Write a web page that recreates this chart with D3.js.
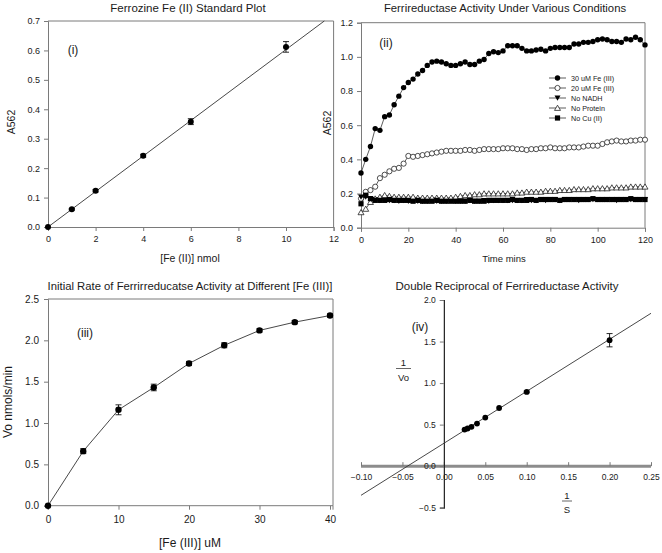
<!DOCTYPE html>
<html><head><meta charset="utf-8">
<script src="https://cdn.jsdelivr.net/npm/d3@7"></script>
<style>body{margin:0;background:#fff}svg{display:block;font-family:"Liberation Sans",Arial,sans-serif}</style>
</head><body><svg id="c" width="662" height="553"></svg>
<script>
// ---------- DATA ----------
// (i) Ferrozine standard
const stdX = [0, 1, 2, 4, 6, 10];
const stdY = [0, 0.06, 0.123, 0.242, 0.358, 0.612];
const stdErr = [0, 0.003, 0.004, 0.005, 0.01, 0.018];
const stdFit = [0, 0.0603]; // intercept, slope
const stdXTicks = [0, 2, 4, 6, 8, 10, 12];
const stdYTicks = [0, 0.1, 0.2, 0.3, 0.4, 0.5, 0.6, 0.7];

// (ii) time course
const timeMins = d3.range(0, 121, 2);
const fe30 = [0.32,0.40,0.475,0.58,0.57,0.65,0.66,0.72,0.77,0.82,
  0.85,0.87,0.90,0.92,0.95,0.97,0.975,0.97,0.96,0.95,
  0.95,0.96,0.97,0.955,0.955,0.975,0.985,1.02,1.03,1.025,
  1.035,1.065,1.065,1.065,1.05,1.035,1.035,1.04,1.045,1.035,
  1.05,1.055,1.055,1.055,1.055,1.075,1.075,1.085,1.085,1.09,
  1.10,1.105,1.10,1.09,1.09,1.085,1.105,1.10,1.115,1.10,
  1.07];
const fe20 = [0.17,0.21,0.22,0.24,0.29,0.31,0.33,0.345,0.35,0.375,
  0.42,0.415,0.42,0.425,0.43,0.435,0.44,0.445,0.45,0.45,
  0.45,0.45,0.455,0.455,0.45,0.455,0.46,0.46,0.46,0.46,
  0.465,0.465,0.465,0.46,0.46,0.455,0.46,0.46,0.465,0.465,
  0.47,0.465,0.465,0.465,0.47,0.47,0.47,0.475,0.48,0.48,
  0.48,0.49,0.50,0.505,0.51,0.505,0.505,0.51,0.51,0.515,
  0.515];
const noNADH = [0.18,0.18,0.17,0.165,0.16,0.165,0.16,0.16,0.155,0.16,
  0.155,0.16,0.155,0.155,0.155,0.16,0.155,0.155,0.155,0.16,
  0.155,0.155,0.155,0.16,0.155,0.155,0.16,0.155,0.16,0.16,
  0.16,0.16,0.16,0.16,0.16,0.165,0.16,0.16,0.165,0.16,
  0.165,0.165,0.16,0.165,0.165,0.165,0.16,0.165,0.165,0.165,
  0.165,0.165,0.165,0.165,0.16,0.165,0.165,0.165,0.165,0.165,
  0.165];
const noProtein = [0.09,0.11,0.15,0.17,0.18,0.19,0.185,0.18,0.18,0.18,
  0.18,0.18,0.175,0.175,0.175,0.175,0.175,0.175,0.175,0.175,
  0.18,0.185,0.19,0.19,0.195,0.195,0.20,0.20,0.20,0.20,
  0.20,0.20,0.20,0.205,0.205,0.21,0.21,0.21,0.21,0.215,
  0.215,0.215,0.22,0.22,0.22,0.225,0.225,0.225,0.225,0.23,
  0.23,0.23,0.23,0.235,0.235,0.235,0.235,0.24,0.24,0.24,
  0.24];
const noCu = [0.14,0.19,0.17,0.16,0.16,0.16,0.165,0.16,0.16,0.16,
  0.16,0.155,0.16,0.155,0.155,0.155,0.16,0.155,0.155,0.155,
  0.155,0.155,0.155,0.16,0.155,0.155,0.155,0.16,0.16,0.16,
  0.16,0.16,0.165,0.16,0.16,0.16,0.165,0.16,0.165,0.165,
  0.165,0.165,0.16,0.165,0.165,0.165,0.165,0.165,0.165,0.17,
  0.165,0.165,0.165,0.165,0.165,0.165,0.165,0.17,0.165,0.165,
  0.165];
const seriesNames = ["30 uM Fe (III)", "20 uM Fe (III)", "No NADH", "No Protein", "No Cu (II)"];
const timeXTicks = [0, 20, 40, 60, 80, 100, 120];
const timeYTicks = [0, 0.2, 0.4, 0.6, 0.8, 1.0, 1.2];

// (iii) initial rate
const feConc = [0, 5, 10, 15, 20, 25, 30, 35, 40];
const vo = [0, 0.66, 1.16, 1.43, 1.72, 1.94, 2.12, 2.22, 2.30];
const voErr = [0, 0.03, 0.06, 0.04, 0.025, 0.03, 0.02, 0.02, 0.02];
const rateXTicks = [0, 10, 20, 30, 40];
const rateYTicks = [0, 0.5, 1.0, 1.5, 2.0, 2.5];

// (iv) double reciprocal
const invS = [0.025, 0.0286, 0.0333, 0.04, 0.05, 0.0667, 0.1, 0.2];
const invVo = [0.44, 0.453, 0.473, 0.513, 0.585, 0.70, 0.894, 1.516];
const invErr = [0, 0, 0, 0, 0, 0, 0.01, 0.08];
const lbFit = [0.275, 6.26]; // intercept, slope
const lbXTicks = [-0.10, -0.05, 0.00, 0.05, 0.10, 0.15, 0.20, 0.25];
const lbYTicks = [-0.5, 0.0, 0.5, 1.0, 1.5, 2.0];

// ---------- DRAW ----------
const svg = d3.select("#c");
const AX = "#7a7a7a";
const TXT = "#1a1a1a";

function text(x, y, s, size, anchor, rot) {
  const t = svg.append("text").attr("x", x).attr("y", y).text(s)
    .attr("font-size", size).attr("fill", TXT).attr("text-anchor", anchor || "middle");
  if (rot) t.attr("transform", `rotate(${rot},${x},${y})`);
  return t;
}
function styleAxis(g, fs) {
  g.selectAll(".domain").attr("stroke", AX);
  g.selectAll(".tick line").attr("stroke", AX);
  g.selectAll(".tick text").attr("fill", TXT).attr("font-size", fs).attr("font-family", "Liberation Sans, Arial, sans-serif");
}
function frame(x, y) {
  svg.append("path").attr("fill", "none").attr("stroke", AX)
    .attr("d", `M${x.range()[0]},${y.range()[1]}H${x.range()[1]}V${y.range()[0]}`);
}
function errBars(g, xs, ys, es, x, y) {
  xs.forEach((d, i) => {
    if (!es[i]) return;
    const cx = x(d), y1 = y(ys[i] - es[i]), y2 = y(ys[i] + es[i]);
    g.append("path").attr("stroke", "#111").attr("fill", "none").attr("stroke-width", 0.9)
      .attr("d", `M${cx},${y1}V${y2}M${cx-3},${y1}H${cx+3}M${cx-3},${y2}H${cx+3}`);
  });
}
function fmt1(d) { return d3.format(".1f")(d); }

// ===== Panel (i) =====
{
  const x = d3.scaleLinear().domain([0, 12]).range([48, 333.6]);
  const y = d3.scaleLinear().domain([0, 0.7]).range([227, 21]);
  frame(x, y);
  const gx = svg.append("g").attr("transform", `translate(0,${y(0)})`)
    .call(d3.axisBottom(x).tickValues(stdXTicks).tickSize(4).tickPadding(5).tickFormat(d3.format("d")));
  styleAxis(gx, 9);
  const gy = svg.append("g").attr("transform", `translate(${x(0)},0)`)
    .call(d3.axisLeft(y).tickValues(stdYTicks).tickSize(4).tickPadding(4).tickFormat(fmt1));
  styleAxis(gy, 9);
  const xEnd = (0.7 - stdFit[0]) / stdFit[1];
  svg.append("line").attr("x1", x(0)).attr("y1", y(stdFit[0]))
    .attr("x2", x(xEnd)).attr("y2", y(stdFit[0] + stdFit[1] * xEnd))
    .attr("stroke", "#333").attr("stroke-width", 0.9);
  const g = svg.append("g");
  errBars(g, stdX, stdY, stdErr, x, y);
  g.selectAll("circle").data(stdX).join("circle")
    .attr("cx", d => x(d)).attr("cy", (d, i) => y(stdY[i])).attr("r", 3).attr("fill", "#000");
  text(188, 12, "Ferrozine Fe (II) Standard Plot", 11.5);
  text(190, 262, "[Fe (II)] nmol", 10.5);
  text(15, 122, "A562", 10.5, "middle", -90);
  text(73, 54, "(i)", 12);
}

// ===== Panel (ii) =====
{
  const x = d3.scaleLinear().domain([0, 120]).range([361, 645]);
  const y = d3.scaleLinear().domain([0, 1.2]).range([227.7, 22.7]);
  frame(x, y);
  const gx = svg.append("g").attr("transform", `translate(0,${y(0)})`)
    .call(d3.axisBottom(x).tickValues(timeXTicks).tickSize(4).tickPadding(5).tickFormat(d3.format("d")));
  styleAxis(gx, 9);
  const gy = svg.append("g").attr("transform", `translate(${x(0)},0)`)
    .call(d3.axisLeft(y).tickValues(timeYTicks).tickSize(4).tickPadding(4).tickFormat(fmt1));
  styleAxis(gy, 9);

  const allSeries = [fe30, fe20, noNADH, noProtein, noCu];
  const line = d3.line().x((d, i) => x(timeMins[i])).y(d => y(d));
  function marker(g, k, cx, cy) {
    if (k === 0) g.append("circle").attr("cx", cx).attr("cy", cy).attr("r", 2.7).attr("fill", "#000");
    else if (k === 1) g.append("circle").attr("cx", cx).attr("cy", cy).attr("r", 2.6).attr("fill", "#fff").attr("stroke", "#222").attr("stroke-width", 0.8);
    else if (k === 2) g.append("path").attr("d", `M${cx-3},${cy-2.4}H${cx+3}L${cx},${cy+2.8}Z`).attr("fill", "#000");
    else if (k === 3) g.append("path").attr("d", `M${cx-3},${cy+2.4}H${cx+3}L${cx},${cy-2.8}Z`).attr("fill", "#fff").attr("stroke", "#222").attr("stroke-width", 0.8);
    else g.append("rect").attr("x", cx - 2.6).attr("y", cy - 2.6).attr("width", 5.2).attr("height", 5.2).attr("fill", "#000");
  }
  allSeries.forEach((s, k) => {
    const g = svg.append("g");
    g.append("path").datum(s).attr("d", line).attr("fill", "none").attr("stroke", "#333").attr("stroke-width", 0.8);
    s.forEach((v, i) => marker(g, k, x(timeMins[i]), y(v)));
  });
  // legend
  const lg = svg.append("g");
  const rowY = [78, 88, 98, 108, 118];
  seriesNames.forEach((n, k) => {
    lg.append("line").attr("x1", 549).attr("x2", 566).attr("y1", rowY[k]).attr("y2", rowY[k]).attr("stroke", "#333").attr("stroke-width", 0.8);
    marker(lg, k, 557.5, rowY[k]);
    lg.append("text").attr("x", 571).attr("y", rowY[k] + 2.6).text(n).attr("font-size", 7.2).attr("fill", TXT);
  });
  text(505, 12, "Ferrireductase Activity Under Various Conditions", 11.3);
  text(504, 262, "Time mins", 9.5);
  text(331, 123, "A562", 10.5, "middle", -90);
  text(386, 47, "(ii)", 12);
}

// ===== Panel (iii) =====
{
  const x = d3.scaleLinear().domain([0, 40]).range([48, 330]);
  const y = d3.scaleLinear().domain([0, 2.5]).range([505.7, 299]);
  svg.append("path").attr("fill", "none").attr("stroke", AX)
    .attr("d", `M${x(0)},${y(2.5)}H333V${y(0)}`);
  const gx = svg.append("g").attr("transform", `translate(0,${y(0)})`)
    .call(d3.axisBottom(x).tickValues(rateXTicks).tickSize(4).tickPadding(6).tickFormat(d3.format("d")));
  styleAxis(gx, 10);
  gx.select(".domain").attr("d", `M${x(0)},4V0H333V4`);
  const gy = svg.append("g").attr("transform", `translate(${x(0)},0)`)
    .call(d3.axisLeft(y).tickValues(rateYTicks).tickSize(4).tickPadding(5).tickFormat(fmt1));
  styleAxis(gy, 10);
  const g = svg.append("g");
  g.append("path").datum(vo).attr("fill", "none").attr("stroke", "#333").attr("stroke-width", 0.9)
    .attr("d", d3.line().x((d, i) => x(feConc[i])).y(d => y(d)));
  errBars(g, feConc, vo, voErr, x, y);
  g.selectAll("circle").data(feConc).join("circle")
    .attr("cx", d => x(d)).attr("cy", (d, i) => y(vo[i])).attr("r", 3.2).attr("fill", "#000");
  text(190, 290, "Initial Rate of Ferrirreducatse Activity at Different [Fe (III)]", 11.3);
  text(190, 547, "[Fe (III)] uM", 12);
  text(12, 402, "Vo nmols/min", 12, "middle", -90);
  text(85, 337, "(iii)", 12);
}

// ===== Panel (iv) =====
{
  const x = d3.scaleLinear().domain([-0.10, 0.25]).range([361, 651]);
  const y = d3.scaleLinear().domain([-0.5, 2.0]).range([507.7, 300]);
  const gx = svg.append("g").attr("transform", `translate(0,${y(0)})`)
    .call(d3.axisTop(x).tickValues(lbXTicks).tickSize(4).tickFormat(d3.format(".2f")));
  gx.select(".domain").attr("stroke", "#8c8c8c").attr("stroke-width", 3).attr("d", `M${x(-0.10)},0H${x(0.25)}`);
  gx.selectAll(".tick line").attr("stroke", AX);
  gx.selectAll(".tick text").attr("y", 14).attr("dy", 0).attr("fill", TXT).attr("font-size", 8.5);
  const gy = svg.append("g").attr("transform", `translate(${x(0)},0)`)
    .call(d3.axisLeft(y).tickValues(lbYTicks).tickSize(4).tickPadding(4).tickFormat(fmt1));
  gy.select(".domain").attr("stroke", "#222").attr("stroke-width", 1.2);
  gy.selectAll(".tick line").attr("stroke", AX);
  gy.selectAll(".tick text").attr("fill", TXT).attr("font-size", 8.5);
  svg.append("line")
    .attr("x1", x(-0.10)).attr("y1", y(lbFit[0] + lbFit[1] * -0.10))
    .attr("x2", x(0.25)).attr("y2", y(lbFit[0] + lbFit[1] * 0.25))
    .attr("stroke", "#333").attr("stroke-width", 0.9);
  const g = svg.append("g");
  errBars(g, invS, invVo, invErr, x, y);
  g.selectAll("circle").data(invS).join("circle")
    .attr("cx", d => x(d)).attr("cy", (d, i) => y(invVo[i])).attr("r", 2.9).attr("fill", "#000");
  text(507, 290, "Double Reciprocal of Ferrireductase Activity", 11.5);
  text(420, 331, "(iv)", 12);
  text(403.5, 366, "1", 9.5);
  svg.append("line").attr("x1", 396).attr("x2", 411).attr("y1", 368.5).attr("y2", 368.5).attr("stroke", "#666").attr("stroke-width", 1);
  text(403.5, 381, "Vo", 9.5);
  text(567, 499, "1", 9.5);
  svg.append("line").attr("x1", 562).attr("x2", 572).attr("y1", 501).attr("y2", 501).attr("stroke", "#666").attr("stroke-width", 1);
  text(567, 513, "S", 9.5);
}
</script></body></html>
